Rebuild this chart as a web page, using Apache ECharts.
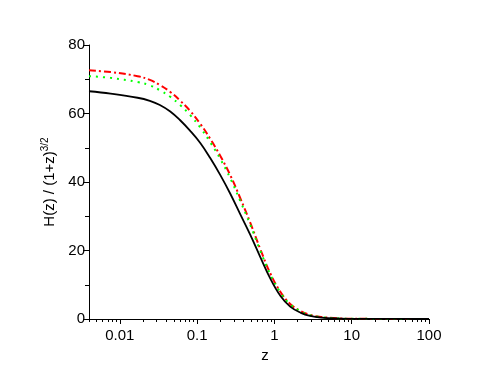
<!DOCTYPE html>
<html>
<head>
<meta charset="utf-8">
<script src="https://cdn.jsdelivr.net/npm/echarts@6/dist/echarts.min.js"></script>
<style>
html,body{margin:0;padding:0;background:#fff;}
#c{width:498px;height:384px;}
</style>
</head>
<body>
<div id="c"></div>
<script>
// redshift sample points
var zValues = [0.004, 0.0076, 0.017, 0.0245, 0.033, 0.045, 0.06, 0.081, 0.11, 0.148, 0.2, 0.27, 0.36, 0.49, 0.66, 0.89, 1.2, 1.6, 2.2, 2.9, 4, 7.2, 10, 20, 50, 100];
var blackSolid = [66.5, 65.8, 64.6, 63.7, 62.5, 60.6, 58.1, 55.0, 51.4, 47.0, 42.0, 36.5, 30.7, 24.5, 18.0, 11.7, 6.7, 3.6, 1.8, 0.9, 0.4, 0.1, 0.05, 0.02, 0.01, 0];
var redDashDot = [72.6, 72.1, 70.9, 69.8, 68.3, 66.3, 63.8, 60.8, 57.0, 52.6, 47.6, 41.9, 35.4, 28.0, 20.3, 13.2, 7.9, 4.4, 2.3, 1.2, 0.6, 0.15, 0.07, 0.03, 0.01, 0];
var greenDotted = [70.9, 70.4, 69.2, 68.2, 66.8, 64.9, 62.5, 59.6, 55.9, 51.6, 46.7, 41.0, 34.6, 27.4, 19.8, 12.9, 7.7, 4.3, 2.2, 1.1, 0.55, 0.14, 0.07, 0.03, 0.01, 0];
var xMajorTicks = [0.01, 0.1, 1, 10, 100];
var xMinorTicks = [0.004, 0.005, 0.006, 0.007, 0.008, 0.009,
  0.02, 0.03, 0.04, 0.05, 0.06, 0.07, 0.08, 0.09,
  0.2, 0.3, 0.4, 0.5, 0.6, 0.7, 0.8, 0.9,
  2, 3, 4, 5, 6, 7, 8, 9,
  20, 30, 40, 50, 60, 70, 80, 90];
var xTickLabels = ['0.01', '0.1', '1', '10', '100'];

function pairs(ys) { return zValues.map(function (z, i) { return [z, ys[i]]; }); }

var FONT = 'Liberation Sans';
var chart = echarts.init(document.getElementById('c'), null, {renderer: 'canvas'});
chart.setOption({
  backgroundColor: '#fff',
  animation: false,
  grid: {left: 89, right: 69, top: 45, bottom: 65, containLabel: false},
  xAxis: [{
    type: 'log', logBase: 10, min: 0.004, max: 100,
    name: 'z', nameLocation: 'middle', nameGap: 25,
    nameTextStyle: {fontFamily: FONT, fontSize: 15, color: '#000', padding: [0, 0, 0, 12]},
    axisLine: {show: true, lineStyle: {color: '#000', width: 1}},
    axisTick: {show: true, length: 5, customValues: xMajorTicks, lineStyle: {color: '#000'}},
    axisLabel: {show: true, customValues: xMajorTicks, margin: 9, fontFamily: FONT, fontSize: 15, color: '#000',
      formatter: function (v) { var i = xMajorTicks.findIndex(function (m) { return Math.abs(Math.log10(m) - Math.log10(v)) < 1e-6; }); return i >= 0 ? xTickLabels[i] : ''; }},
    splitLine: {show: false}, minorTick: {show: false}
  }, {
    type: 'log', logBase: 10, min: 0.004, max: 100, position: 'bottom',
    axisLine: {show: false},
    axisTick: {show: true, length: 3, customValues: xMinorTicks, lineStyle: {color: '#000'}},
    axisLabel: {show: false},
    splitLine: {show: false}
  }],
  yAxis: {
    type: 'value', min: 0, max: 80, interval: 20,
    name: '{a|H(z) / (1+z)}{s|3/2}', nameLocation: 'middle', nameGap: 30,
    nameTextStyle: {fontFamily: FONT, fontSize: 15, color: '#000',
      rich: {a: {fontFamily: FONT, fontSize: 15, color: '#000'},
             s: {fontFamily: FONT, fontSize: 10, color: '#000', padding: [0, 0, 9, 0]}}},
    axisLine: {show: true, lineStyle: {color: '#000', width: 1}},
    axisTick: {show: true, length: 6, lineStyle: {color: '#000'}},
    minorTick: {show: true, splitNumber: 2, length: 4, lineStyle: {color: '#000'}},
    axisLabel: {margin: 4, fontFamily: FONT, fontSize: 15, color: '#000'},
    splitLine: {show: false}, minorSplitLine: {show: false}
  },
  series: [{
    type: 'line', name: 'red', xAxisIndex: 0, data: pairs(redDashDot), showSymbol: false, smooth: 0.4,
    lineStyle: {color: '#ff0000', width: 2, type: [7, 3, 2, 3]}
  }, {
    type: 'line', name: 'green', xAxisIndex: 0, data: pairs(greenDotted), showSymbol: false, smooth: 0.4,
    lineStyle: {color: '#00ff00', width: 2, type: [2, 5]}
  }, {
    type: 'line', name: 'black', xAxisIndex: 0, data: pairs(blackSolid), showSymbol: false, smooth: 0.4,
    lineStyle: {color: '#000000', width: 1.8}
  }]
});
</script>
</body>
</html>
